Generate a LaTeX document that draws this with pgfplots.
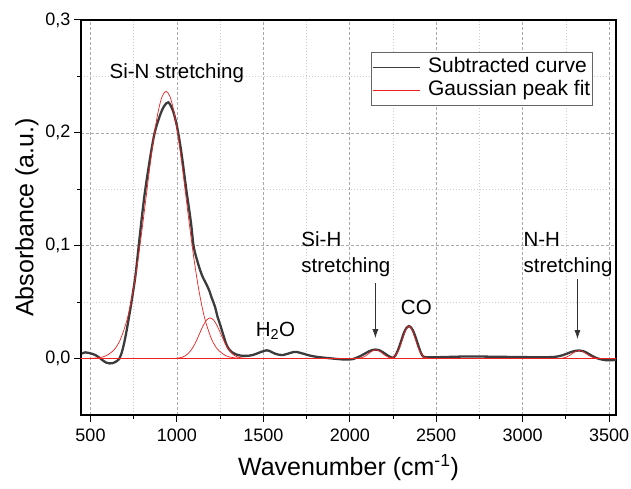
\documentclass[border=0pt]{standalone}
\usepackage{fontspec}
\setmainfont{Liberation Sans}
\usepackage{pgfplots}
\pgfplotsset{compat=1.18}
\usetikzlibrary{arrows.meta}
\definecolor{curve}{RGB}{60,60,60}
\definecolor{fitred}{RGB}{238,32,32}
\definecolor{gridmaj}{RGB}{170,170,170}
\definecolor{gridmin}{RGB}{205,205,205}
\begin{document}
\begin{tikzpicture}
\begin{axis}[
  scale only axis, width=535bp, height=395bp,
  xmin=445, xmax=3540, ymin=-0.05, ymax=0.3,
  axis line style={black, line width=1.1bp},
  xtick={500,1000,...,3500}, minor xtick={750,1250,...,3250},
  ytick={0,0.1,0.2,0.3}, minor ytick={0.05,0.15,0.25},
  xtick pos=bottom, ytick pos=left, tick align=outside,
  major tick length=7bp, minor tick length=4bp,
  every tick/.style={black, line width=1bp},
  grid=both,
  major grid style={gridmaj, dash pattern=on 3bp off 2bp, line width=0.6bp},
  minor grid style={gridmin, dash pattern=on 1.5bp off 1.5bp, line width=0.6bp},
  ticklabel style={font=\fontsize{18bp}{21bp}\selectfont},
  /pgf/number format/assume math mode=true,
  xticklabel style={/pgf/number format/set thousands separator={}, yshift=-3bp},
  yticklabel style={/pgf/number format/use comma, /pgf/number format/fixed, /pgf/number format/fixed zerofill, /pgf/number format/precision=1},
  xlabel={Wavenumber (cm\textsuperscript{-1})},
  ylabel={Absorbance (a.u.)},
  label style={font=\fontsize{25bp}{29bp}\selectfont},
  xlabel style={yshift=-6bp},
  legend style={at={(0.542,0.9186)}, anchor=north west, draw=black!60, line width=0.8bp,
    font=\fontsize{21bp}{24bp}\selectfont, inner xsep=1bp, inner ysep=3.5bp, row sep=0.5bp,
    nodes={inner sep=1.5bp, text height=15bp, text depth=4.5bp}},
  legend cell align=left,
  legend image code/.code={\draw[#1] (0bp,0bp) -- (47bp,0bp); \path (53bp,0bp);},
]
\addlegendimage{curve, line width=1.2bp}
\addlegendentry{Subtracted curve}
\addplot[curve, line width=2.3bp, smooth, forget plot] coordinates {
(450,0.0045) (470,0.0055) (490,0.005) (510,0.0042) (530,0.003) (550,0.001)
(570,-0.0015) (590,-0.0035) (610,-0.0043) (630,-0.004) (650,-0.0025) (665,-0.0005)
(680,0.005) (695,0.014) (708,0.024) (720,0.0345) (737,0.05) (760,0.0735) (779,0.1)
(798,0.1265) (817,0.15) (846,0.179) (871,0.2) (900,0.2147) (925,0.2235) (950,0.227)
(975,0.2205) (996,0.2088) (1013,0.195) (1029,0.179) (1054,0.15) (1081,0.1206)
(1096,0.100) (1115,0.088) (1135,0.078) (1150,0.072) (1165,0.0675) (1185,0.061)
(1202,0.0535) (1220,0.046) (1235,0.037) (1250,0.030) (1269,0.0206) (1285,0.013)
(1300,0.0085) (1320,0.0055) (1346,0.0035) (1375,0.0025) (1404,0.0024) (1435,0.003)
(1462,0.0044) (1485,0.0058) (1505,0.0068) (1520,0.0073) (1535,0.0068) (1550,0.0056)
(1570,0.0042) (1590,0.0034) (1615,0.0032) (1635,0.004) (1655,0.005) (1675,0.0058)
(1695,0.0058) (1715,0.005) (1735,0.0042) (1760,0.003) (1790,0.002) (1820,0.0013)
(1850,0.0008) (1890,0.0002) (1930,-0.0004) (1980,-0.0009) (2020,-0.0004) (2040,0.0008)
(2058,0.002) (2080,0.0038) (2100,0.0055) (2125,0.0073) (2150,0.008) (2172,0.0073)
(2192,0.0056) (2212,0.0035) (2232,0.0016) (2250,0.0008) (2265,0.003) (2280,0.008)
(2295,0.0145) (2310,0.0215) (2325,0.0265) (2342,0.0288) (2358,0.0268) (2372,0.0225)
(2387,0.016) (2400,0.0098) (2413,0.0045) (2425,0.0018) (2440,0.0012) (2480,0.0012)
(2540,0.0013) (2600,0.0016) (2700,0.0019) (2800,0.0017) (2900,0.0015) (3000,0.0013)
(3100,0.0012) (3180,0.0014) (3220,0.0025) (3250,0.004) (3280,0.0058) (3305,0.0068)
(3327,0.0072) (3350,0.0066) (3375,0.0048) (3400,0.0025) (3425,0.0006) (3450,-0.0006)
(3480,-0.0014) (3510,-0.0015) (3540,-0.0012)
};
\addplot[fitred, line width=0.7bp, smooth] coordinates {
(445,0) (477,0.00008) (546,0.00073) (592,0.00263) (638,0.00806) (672.5,0.0168)
(707,0.0320) (730,0.0469) (753,0.0658) (776,0.0889) (799,0.1153) (822,0.1436)
(845,0.1719) (868,0.1978) (891,0.2186) (914,0.2321) (937,0.2368) (960,0.2321)
(983,0.2186) (1006,0.1978) (1029,0.1719) (1052,0.1436) (1075,0.1153) (1098,0.0889)
(1121,0.0658) (1144,0.0469) (1167,0.0320) (1201.5,0.0168) (1236,0.00806)
(1282,0.00263) (1328,0.00073) (1397,0.00008) (1460,0) (1600,0) (3540,0)
};
\addlegendentry{Gaussian peak fit}
\addplot[fitred, line width=0.7bp, smooth, forget plot] coordinates {
(445,0) (900,0) (942,0) (992,0.00020) (1032,0.00129) (1062,0.00400) (1092,0.00980)
(1112,0.01566) (1132,0.02254) (1152,0.02924) (1172,0.03418) (1192,0.036)
(1212,0.03418) (1232,0.02924) (1252,0.02254) (1272,0.01566) (1292,0.00980)
(1322,0.00400) (1352,0.00129) (1392,0.00020) (1442,0) (1500,0) (3540,0)
};
\addplot[fitred, line width=0.7bp, smooth, forget plot] coordinates {
(445,0) (1950,0) (1990,0) (2026,0.00004) (2055,0.00034) (2074,0.00106) (2093,0.00253)
(2112,0.00473) (2131,0.00688) (2150,0.0078) (2169,0.00688) (2188,0.00473)
(2207,0.00253) (2226,0.00106) (2245,0.00034) (2274,0.00004) (2310,0) (2350,0) (3540,0)
};
\addplot[fitred, line width=0.7bp, smooth, forget plot] coordinates {
(445,0) (2150,0) (2190,0) (2225,0.00015) (2252,0.00127) (2270,0.00392) (2288,0.00942)
(2306,0.01759) (2324,0.02559) (2342,0.029) (2360,0.02559) (2378,0.01759)
(2396,0.00942) (2414,0.00392) (2432,0.00127) (2459,0.00015) (2495,0) (2540,0) (3540,0)
};
\addplot[fitred, line width=0.7bp, smooth, forget plot] coordinates {
(445,0) (3120,0) (3160,0) (3197,0.00004) (3227,0.00032) (3247,0.00097) (3267,0.00234)
(3287,0.00437) (3307,0.00635) (3327,0.0072) (3347,0.00635) (3367,0.00437)
(3387,0.00234) (3407,0.00097) (3427,0.00032) (3457,0.00004) (3495,0) (3540,0)
};
\node[anchor=base west, font=\fontsize{20.5bp}{24bp}\selectfont] at (axis cs:590,0.2482) {Si-N stretching};
\node[anchor=base, font=\fontsize{20.5bp}{24bp}\selectfont] at (axis cs:1570,0.0197) {H\textsubscript{2}O};
\node[anchor=base west, font=\fontsize{20.5bp}{24bp}\selectfont] at (axis cs:1700,0.0997) {Si-H};
\node[anchor=base west, font=\fontsize{20.5bp}{24bp}\selectfont] at (axis cs:1700,0.0763) {stretching};
\node[anchor=base west, font=\fontsize{20.5bp}{24bp}\selectfont] at (axis cs:2985,0.0997) {N-H};
\node[anchor=base west, font=\fontsize{20.5bp}{24bp}\selectfont] at (axis cs:2985,0.0763) {stretching};
\node[anchor=base, font=\fontsize{20.5bp}{24bp}\selectfont] at (axis cs:2385,0.0394) {CO};
\draw[-{Latex[length=9bp,width=6bp]}, line width=0.8bp, black!80] (axis cs:2148,0.0668) -- (axis cs:2148,0.0181);
\draw[-{Latex[length=9bp,width=6bp]}, line width=0.8bp, black!80] (axis cs:3317,0.0704) -- (axis cs:3317,0.0173);
\end{axis}
\pgfresetboundingbox
\path (current axis.south west) ++(-81bp,-74bp) rectangle ++(631bp,489bp);
\end{tikzpicture}
\end{document}
